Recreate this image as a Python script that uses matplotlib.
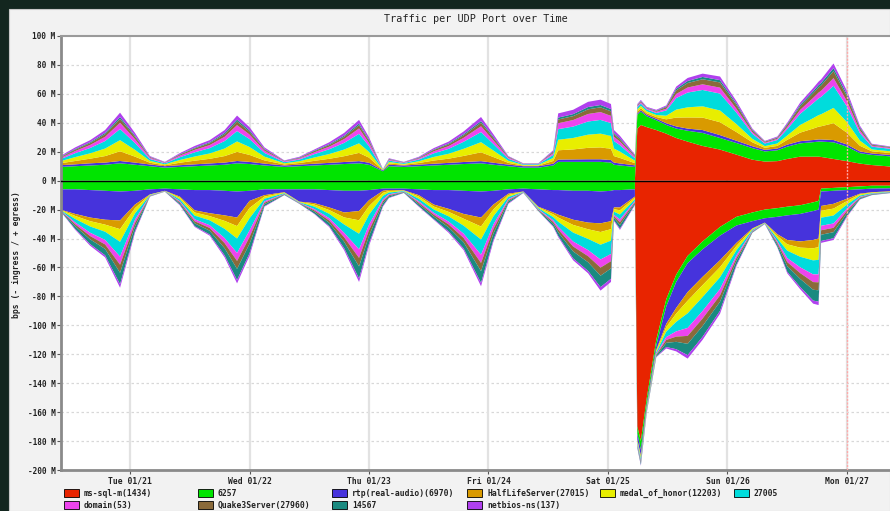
import numpy as np
import matplotlib
matplotlib.use("Agg")
import matplotlib.pyplot as plt
from matplotlib.patches import Rectangle

# ---------------- data (hours after Tue 01/21 00:00, values in Mbps) ----------------
hours = [-14, -11, -8, -5, -2, 1, 4, 7, 10, 13, 16, 19, 21.5, 24, 27, 31, 34, 37, 40, 43,
         46, 48, 50.8, 52, 55, 58, 61, 64, 67, 70.5, 73, 76, 79, 82, 85, 86, 89, 92, 94.5, 96.6,
         97.2, 98.4, 101.4, 101.9, 102.6, 103.8, 105.7, 107.7, 109.7, 112, 115, 118.5, 121.8, 125, 127.5, 130,
         132, 134.6, 137.2, 138.3, 138.8, 141.3, 144, 146.6, 149, 153]

day_ticks = [0, 24, 48, 72, 96, 120, 144]
day_labels = ["Tue 01/21", "Wed 01/22", "Thu 01/23", "Fri 01/24", "Sat 01/25", "Sun 01/26", "Mon 01/27"]
y_ticks = [100, 80, 60, 40, 20, 0, -20, -40, -60, -80, -100, -120, -140, -160, -180, -200]

series_names = ["ms-sql-m(1434)", "6257", "rtp(real-audio)(6970)", "HalfLifeServer(27015)",
                "medal_of_honor(12203)", "27005", "domain(53)", "Quake3Server(27960)", "14567",
                "netbios-ns(137)"]
series_colors = ["#e82400", "#00e400", "#4633dc", "#d99a00", "#e8ee00", "#00dcdc",
                 "#ee44ee", "#8a6a3a", "#1a8a80", "#b040ee"]

# egress (+)
out_mssql = [0]*43 + [36, 38.5, 37, 35, 32.5, 29.5, 27, 24, 21.5, 18, 14.5, 13.2, 13.5, 15, 16.6, 16.6, 16.6,
                      16.4, 15, 13.5, 11.8, 10.8, 9.7]
out_6257 = [9.5, 10, 10.5, 11, 12, 11, 10, 9, 9.5, 10, 10.5, 11, 12, 11.5, 10.5, 9.5, 10, 10.5, 11, 11.5,
            12, 11, 6.5, 10, 9.5, 10, 10.5, 11, 11.5, 12, 11, 10, 9, 9, 10.5, 13, 13, 13, 13, 12.5,
            11, 10.5, 9.5, 9.5, 9.2, 7.5, 6.8, 6, 6.5, 7.5, 9, 8, 8, 8, 7, 7.5,
            8.5, 9.2, 10, 10.4, 10.6, 11.5, 10, 7.2, 7, 7]
out_rtp = [1.2, 1.3, 1.5, 1.5, 1.6, 1.5, 1.2, 1.0, 1.2, 1.3, 1.4, 1.5, 1.6, 1.5, 1.3, 1.0, 1.1, 1.2, 1.3, 1.4,
           1.5, 1.4, 0.6, 1.0, 1.0, 1.1, 1.2, 1.3, 1.4, 1.5, 1.4, 1.1, 1.0, 1.0, 1.2, 1.6, 1.7, 1.8, 1.8, 1.8,
           1.5, 1.4, 1.1, 1, 1, 1, 1, 1.2, 1.5, 1.5, 2, 2, 1.6, 1.3, 1.1, 1.2,
           1.4, 1.5, 1.5, 1.5, 1.5, 1.6, 1.5, 1.2, 1, 1]
out_halflife = [1.3, 2.3, 3.2, 4.5, 6.7, 4.1, 1.2, 0.6, 1.7, 2.5, 3.2, 4.5, 6.3, 4.8, 2.2, 0.7, 1.1, 2.0, 2.8, 4.0,
                5.7, 3.5, 0.2, 0.9, 0.5, 1.1, 2.2, 2.9, 4.2, 6.1, 3.9, 1.2, 0.4, 0.4, 1.9, 6.4, 6.9, 7.9, 8.2, 7.7,
                4.5, 3.8, 1.5, 1.3, 1.4, 1.1, 1.2, 2.7, 6.1, 7.7, 8.6, 8.9, 6.0, 2.7, 1.4, 1.8,
                3.3, 5.9, 7.9, 8.8, 9.1, 11.6, 8.1, 3.9, 1.5, 1.3]
out_medal = [1.4, 2.7, 3.7, 5.2, 7.7, 4.7, 1.3, 0.7, 1.9, 2.9, 3.7, 5.2, 7.2, 5.5, 2.6, 0.8, 1.2, 2.3, 3.3, 4.6,
             6.6, 4.0, 0.2, 1.0, 0.6, 1.2, 2.5, 3.4, 4.9, 7.0, 4.5, 1.4, 0.5, 0.5, 2.1, 7.3, 7.9, 9.1, 9.5, 8.9,
             5.2, 4.4, 1.7, 1.5, 1.6, 1.3, 1.4, 2.5, 5.5, 7.0, 7.8, 8.1, 5.5, 2.4, 1.2, 1.7,
             3.0, 5.3, 7.2, 8.0, 8.3, 10.6, 7.4, 3.6, 1.3, 1.2]
out_27005 = [1.4, 2.7, 3.7, 5.2, 7.7, 4.7, 1.3, 0.7, 1.9, 2.9, 3.7, 5.2, 7.2, 5.5, 2.6, 0.8, 1.2, 2.3, 3.3, 4.6,
             6.6, 4.0, 0.2, 1.0, 0.6, 1.2, 2.5, 3.4, 4.9, 7.0, 4.5, 1.4, 0.5, 0.5, 2.1, 7.3, 7.9, 9.1, 9.5, 8.9,
             5.2, 4.4, 1.7, 1.5, 1.6, 1.3, 1.4, 3.6, 8.0, 10.2, 11.3, 11.7, 7.9, 3.5, 1.8, 2.4,
             4.4, 7.7, 10.4, 11.6, 12.0, 15.3, 10.7, 5.2, 1.9, 1.7]
out_domain = [0.8, 1.5, 2.1, 2.9, 4.3, 2.7, 0.8, 0.4, 1.1, 1.7, 2.1, 2.9, 4.1, 3.1, 1.5, 0.5, 0.7, 1.3, 1.8, 2.6,
              3.7, 2.3, 0.1, 0.6, 0.3, 0.7, 1.4, 1.9, 2.7, 4.0, 2.5, 0.8, 0.3, 0.3, 1.2, 4.1, 4.5, 5.2, 5.4, 5.0,
              2.9, 2.5, 1.0, 0.8, 0.9, 0.7, 0.8, 1.2, 2.8, 3.5, 3.9, 4.1, 2.7, 1.2, 0.6, 0.8,
              1.5, 2.7, 3.6, 4.0, 4.2, 5.3, 3.7, 1.8, 0.7, 0.6]
out_quake3 = [0.5, 0.9, 1.3, 1.8, 2.7, 1.6, 0.5, 0.2, 0.7, 1.0, 1.3, 1.8, 2.5, 1.9, 0.9, 0.3, 0.4, 0.8, 1.1, 1.6,
              2.3, 1.4, 0.1, 0.4, 0.2, 0.4, 0.9, 1.2, 1.7, 2.4, 1.6, 0.5, 0.1, 0.1, 0.8, 2.6, 2.7, 3.2, 3.3, 3.1,
              1.8, 1.5, 0.6, 0.5, 0.6, 0.4, 0.5, 1.1, 2.5, 3.1, 3.5, 3.6, 2.5, 1.1, 0.6, 0.7,
              1.4, 2.4, 3.2, 3.6, 3.7, 4.8, 3.3, 1.6, 0.6, 0.5]
out_14567 = [0.3, 0.5, 0.6, 0.9, 1.3, 0.8, 0.2, 0.1, 0.3, 0.5, 0.6, 0.9, 1.3, 1.0, 0.4, 0.1, 0.3, 0.4, 0.6, 0.8,
             1.1, 0.7, 0, 0.2, 0.1, 0.3, 0.4, 0.6, 0.8, 1.2, 0.8, 0.2, 0.1, 0.1, 0.4, 1.3, 1.4, 1.6, 1.6, 1.6,
             0.9, 0.8, 0.3, 0.3, 0.3, 0.2, 0.3, 0.5, 1.1, 1.4, 1.6, 1.6, 1.1, 0.5, 0.2, 0.3,
             0.6, 1.1, 1.4, 1.6, 1.7, 2.1, 1.5, 0.7, 0.3, 0.2]
out_netbios = [0.6, 1.1, 1.4, 2.0, 3.0, 1.9, 0.5, 0.3, 0.7, 1.2, 1.5, 2.0, 2.8, 2.2, 1.0, 0.3, 0.5, 0.7, 1.3, 1.9,
               2.5, 1.7, 0.1, 0.4, 0.2, 0.5, 0.9, 1.3, 1.9, 2.8, 1.8, 0.4, 0.1, 0.1, 0.8, 2.9, 3.0, 3.6, 3.7, 3.5,
               2.0, 1.7, 0.6, 0.6, 0.7, 0.5, 0.6, 0.7, 1.5, 2.1, 2.3, 2.5, 1.7, 0.8, 0.4, 0.6,
               0.9, 1.6, 2.2, 2.4, 2.5, 3.2, 2.3, 1.0, 0.4, 0.3]

# ingress (-), magnitudes
in_mssql = [0]*43 + [170, 180, 150, 110, 82, 65, 52, 42, 32, 25, 22, 20, 19, 18, 17, 15, 14,
                     5.5, 5, 4.5, 4, 3.5, 3.5]
in_6257 = [6, 6, 6.5, 7, 7.5, 7, 6, 5.5, 6, 6.5, 6.5, 7, 7.5, 7, 6, 6, 6, 6, 6.5, 7,
           7, 6.5, 5.5, 5.5, 5.5, 6, 6.5, 6.5, 7, 7.5, 7, 6, 5.5, 6, 6.5, 6.5, 7, 7, 7.5, 7,
           6.5, 6.5, 6, 5, 6, 4, 4, 5, 5, 5, 5.5, 6, 6, 6, 6, 6,
           6, 6, 6, 6, 2, 2, 2, 2, 2, 1.8]
in_rtp = [14, 17, 19, 20, 20, 9.5, 3.5, 1.5, 5, 14, 16, 17, 18, 7, 4, 2, 8.5, 9.5, 12, 15,
          14, 7, 1.5, 1, 1.2, 4, 10, 13, 16, 18, 9.5, 3, 2, 12, 15.5, 17, 20, 22, 22, 21,
          12, 12, 5, 4, 4, 2, 3, 12, 18, 20, 19, 17, 12, 5, 3, 12,
          17, 19, 20, 20, 10, 9, 6, 3, 2.5, 2]
in_halflife = [0.1, 1.4, 2.5, 3.4, 6.0, 2.5, 0.2, 0.1, 0.8, 1.5, 2.0, 3.8, 5.9, 4.9, 1.0, 0.3, 0.2, 1.0, 1.8, 3.4,
               6.4, 4.1, 1.4, 0.7, 0.2, 1.0, 1.4, 2.1, 3.3, 6.2, 3.3, 0.9, 0.1, 0.4, 1.3, 2.0, 3.6, 4.6, 6.0, 5.5,
               1.2, 2.0, 0.8, 0.8, 0.9, 0.5, 0.7, 2.2, 3.9, 6.0, 5.7, 4.8, 2.1, 0.4, 0.1, 1.2,
               3.0, 4.3, 5.7, 6.0, 3.3, 3.3, 1.6, 0.5, 0.3, 0.2]
in_medal = [0.2, 2.1, 3.7, 4.9, 8.8, 3.7, 0.3, 0.1, 1.1, 2.2, 2.9, 5.5, 8.6, 7.2, 1.5, 0.4, 0.3, 1.4, 2.6, 4.9,
            9.3, 6.0, 2.1, 1.0, 0.3, 1.5, 2.0, 3.1, 4.8, 9.0, 4.8, 1.3, 0.2, 0.6, 1.9, 2.9, 5.3, 6.7, 8.8, 8.0,
            1.8, 2.9, 1.1, 1.1, 1.3, 0.8, 1.0, 3.2, 5.7, 8.7, 8.3, 7.0, 3.0, 0.6, 0.2, 1.7,
            4.4, 6.3, 8.4, 8.7, 4.8, 4.8, 2.4, 0.8, 0.4, 0.2]
in_27005 = [0.2, 2.4, 4.3, 5.7, 10.2, 4.3, 0.3, 0.1, 1.3, 2.5, 3.4, 6.4, 10.0, 8.4, 1.8, 0.4, 0.3, 1.7, 3.0, 5.7,
            10.8, 6.9, 2.4, 1.2, 0.4, 1.8, 2.3, 3.6, 5.5, 10.5, 5.6, 1.5, 0.2, 0.7, 2.2, 3.4, 6.2, 7.7, 10.2, 9.2,
            2.1, 3.4, 1.3, 1.3, 1.5, 0.9, 1.1, 3.7, 6.6, 10.1, 9.6, 8.1, 3.5, 0.7, 0.2, 2.0,
            5.1, 7.3, 9.7, 10.1, 5.6, 5.5, 2.8, 0.9, 0.4, 0.3]
in_domain = [0.1, 1.3, 2.3, 3.1, 5.6, 2.3, 0.2, 0.1, 0.7, 1.4, 1.9, 3.5, 5.5, 4.6, 1.0, 0.2, 0.2, 0.9, 1.6, 3.1,
             5.9, 3.8, 1.3, 0.7, 0.2, 1.0, 1.3, 2.0, 3.0, 5.7, 3.1, 0.8, 0.1, 0.4, 1.2, 1.9, 3.4, 4.2, 5.6, 5.0,
             1.1, 1.9, 0.7, 0.7, 0.8, 0.5, 0.6, 2.0, 3.6, 5.5, 5.2, 4.4, 1.9, 0.4, 0.1, 1.1,
             2.8, 4.0, 5.3, 5.5, 3.1, 3.0, 1.5, 0.5, 0.2, 0.1]
in_quake3 = [0.1, 1.3, 2.3, 3.1, 5.6, 2.3, 0.2, 0.1, 0.7, 1.4, 1.9, 3.5, 5.5, 4.6, 1.0, 0.2, 0.2, 0.9, 1.6, 3.1,
             5.9, 3.8, 1.3, 0.7, 0.2, 1.0, 1.3, 2.0, 3.0, 5.7, 3.1, 0.8, 0.1, 0.4, 1.2, 1.9, 3.4, 4.2, 5.6, 5.0,
             1.1, 1.9, 0.7, 0.7, 0.8, 0.5, 0.6, 2.0, 3.6, 5.5, 5.2, 4.4, 1.9, 0.4, 0.1, 1.1,
             2.8, 4.0, 5.3, 5.5, 3.1, 3.0, 1.5, 0.5, 0.2, 0.1]
in_14567 = [0.2, 1.9, 3.3, 4.4, 7.9, 3.3, 0.2, 0.1, 1.0, 2.0, 2.6, 4.9, 7.7, 6.5, 1.3, 0.4, 0.2, 1.3, 2.3, 4.4,
            8.3, 5.4, 1.9, 0.9, 0.4, 1.3, 1.8, 2.8, 4.2, 8.1, 4.3, 1.2, 0.2, 0.4, 1.7, 2.6, 4.8, 6.0, 7.9, 7.1,
            1.6, 2.6, 1.0, 1.0, 1.2, 0.6, 0.8, 2.9, 5.1, 7.8, 7.4, 6.3, 2.7, 0.4, 0.2, 1.5,
            3.9, 5.6, 7.5, 7.8, 4.3, 4.2, 2.1, 0.6, 0.4, 0.2]
in_netbios = [0.1, 0.6, 1.1, 1.4, 2.4, 1.1, 0.1, 0, 0.4, 0.5, 0.8, 1.4, 2.3, 1.8, 0.4, 0.1, 0.1, 0.3, 0.6, 1.4,
              2.4, 1.5, 0.6, 0.3, 0.1, 0.4, 0.4, 0.9, 1.2, 2.3, 1.3, 0.5, 0.1, 0.1, 0.5, 0.8, 1.3, 1.6, 2.4, 2.2,
              0.6, 0.8, 0.4, 0.4, 0.5, 0.2, 0.2, 1.0, 1.5, 2.4, 2.1, 2.0, 0.9, 0.1, 0.1, 0.4,
              1.0, 1.5, 2.1, 2.4, 1.3, 1.2, 0.6, 0.2, 0.1, 0.1]

egress = [out_mssql, out_6257, out_rtp, out_halflife, out_medal, out_27005, out_domain,
          out_quake3, out_14567, out_netbios]
ingress = [in_mssql, in_6257, in_rtp, in_halflife, in_medal, in_27005, in_domain,
           in_quake3, in_14567, in_netbios]

# ---------------- figure ----------------
W, H = 890, 511
fig = plt.figure(figsize=(W / 100, H / 100), dpi=100, facecolor="#13261f")
panel = Rectangle((9 / W, 0), 1 - 9 / W, (H - 9) / H, transform=fig.transFigure,
                  facecolor="#f2f2f2", edgecolor="#c8c8c8", lw=0.8, zorder=-10)
fig.add_artist(panel)

ax = fig.add_axes([61 / W, (H - 470) / H, (W - 61) / W, (470 - 36) / H], zorder=1)
ax.set_facecolor("white")

x = np.array(hours, dtype=float)
ax.stackplot(x, *[np.array(s, dtype=float) for s in egress], colors=series_colors, lw=0, zorder=2)
ax.stackplot(x, *[-np.array(s, dtype=float) for s in ingress], colors=series_colors, lw=0, zorder=2)

ax.set_xlim(-13.86, 152.64)
ax.set_ylim(-200, 100)

# grid
for yv in y_ticks:
    if yv not in (0, 100, -200):
        ax.axhline(yv, color="#d8d8d8", lw=0.9, ls=(0, (2, 2)), zorder=1)
for d in day_ticks:
    ax.axvline(d, color="#e2e2e2", lw=1.6, zorder=1)
ax.axvline(144, color="#ffaaaa", lw=1.0, ls=(0, (1.5, 1)), zorder=3)
ax.axhline(0, color="#000000", lw=1.0, zorder=4)

mono = "DejaVu Sans Mono"
ax.set_yticks(y_ticks)
ax.set_yticklabels([f"{v} M" for v in y_ticks], fontsize=5.6, family=mono, fontweight="bold", color="#222222")
ax.set_xticks(day_ticks)
ax.set_xticklabels(day_labels, fontsize=5.8, family=mono, fontweight="bold", color="#222222")
ax.tick_params(axis="y", length=3, width=0.8, color="#555555", pad=1)
ax.tick_params(axis="x", length=3, width=0.8, color="#555555", pad=2)

ax.spines["right"].set_visible(False)
ax.spines["left"].set_color("#8a8a8a")
ax.spines["left"].set_linewidth(2)
ax.spines["bottom"].set_color("#8a8a8a")
ax.spines["bottom"].set_linewidth(2)
ax.spines["top"].set_color("#9a9a9a")
ax.spines["top"].set_linewidth(1.5)

fig.text(476 / W, 1 - 19 / H, "Traffic per UDP Port over Time", ha="center", va="center",
         fontsize=7.3, family=mono, color="#222222")
fig.text(17 / W, 1 - 255 / H, "bps (- ingress / + egress)", ha="center", va="center",
         rotation=90, fontsize=5.8, family=mono, fontweight="bold", color="#222222")

# legend (manual, rrdtool style)
col_x = [64, 198, 332, 467, 600, 734]
row_y = [493, 505]
for i, (name, col) in enumerate(zip(series_names, series_colors)):
    r, c = divmod(i, 6)
    px, py = col_x[c], row_y[r]
    fig.add_artist(Rectangle((px / W, 1 - (py + 4) / H), 15 / W, 8 / H, transform=fig.transFigure,
                             facecolor=col, edgecolor="#000000", lw=0.6, zorder=5))
    fig.text((px + 20) / W, 1 - py / H, name, ha="left", va="center", fontsize=5.8, family=mono,
             fontweight="bold", color="#222222")

fig.savefig("out.png", dpi=100, facecolor=fig.get_facecolor())
